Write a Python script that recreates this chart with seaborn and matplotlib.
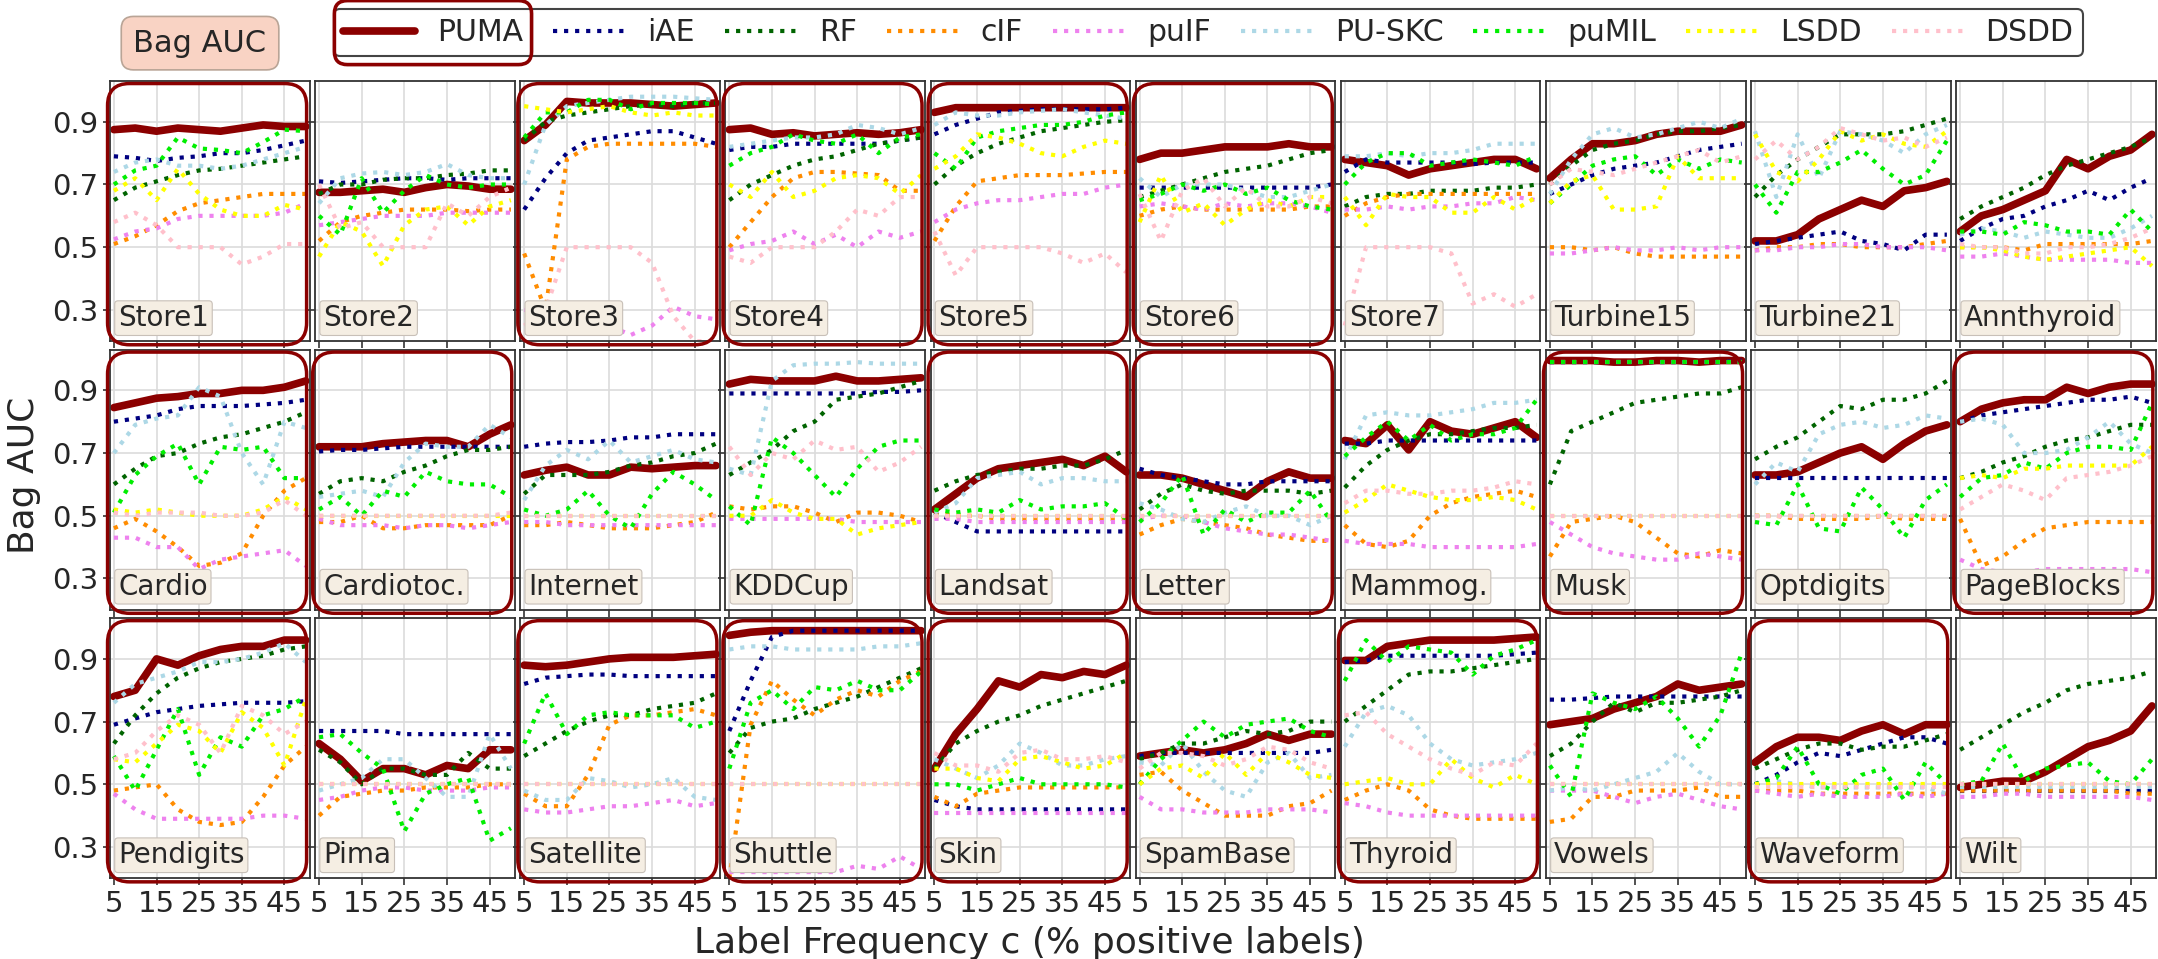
import matplotlib
matplotlib.use('Agg')
import matplotlib.pyplot as plt
from matplotlib.lines import Line2D
from matplotlib.patches import FancyBboxPatch
import pandas as pd
import seaborn as sns

label_freq = [5, 10, 15, 20, 25, 30, 35, 40, 45, 50]
methods = ['PUMA', 'iAE', 'RF', 'cIF', 'puIF', 'PU-SKC', 'puMIL', 'LSDD', 'DSDD']
datasets = ['Store1', 'Store2', 'Store3', 'Store4', 'Store5', 'Store6', 'Store7',
            'Turbine15', 'Turbine21', 'Annthyroid',
            'Cardio', 'Cardiotoc.', 'Internet', 'KDDCup', 'Landsat', 'Letter',
            'Mammog.', 'Musk', 'Optdigits', 'PageBlocks',
            'Pendigits', 'Pima', 'Satellite', 'Shuttle', 'Skin', 'SpamBase',
            'Thyroid', 'Vowels', 'Waveform', 'Wilt']
# datasets where PUMA is the best method (framed in dark red)
puma_best = ['Store1', 'Store3', 'Store4', 'Store5', 'Store6', 'Cardio', 'Cardiotoc.',
             'Landsat', 'Letter', 'Musk', 'PageBlocks', 'Pendigits', 'Satellite',
             'Shuttle', 'Skin', 'Thyroid', 'Waveform']

# Bag AUC per method, one dict per dataset (values read at c = 5..50)
store1 = {
    'PUMA': [0.875, 0.88, 0.87, 0.88, 0.875, 0.87, 0.88, 0.89, 0.885, 0.885],
    'iAE': [0.79, 0.785, 0.775, 0.785, 0.79, 0.80, 0.80, 0.81, 0.825, 0.84],
    'RF': [0.65, 0.69, 0.71, 0.73, 0.745, 0.75, 0.76, 0.77, 0.78, 0.79],
    'cIF': [0.51, 0.535, 0.57, 0.615, 0.64, 0.65, 0.66, 0.67, 0.67, 0.67],
    'puIF': [0.525, 0.55, 0.56, 0.59, 0.60, 0.60, 0.60, 0.60, 0.61, 0.64],
    'PU-SKC': [0.74, 0.77, 0.78, 0.76, 0.76, 0.75, 0.76, 0.78, 0.80, 0.82],
    'puMIL': [0.70, 0.745, 0.76, 0.85, 0.815, 0.81, 0.80, 0.835, 0.875, 0.87],
    'LSDD': [0.68, 0.72, 0.65, 0.75, 0.67, 0.62, 0.60, 0.60, 0.635, 0.62],
    'DSDD': [0.58, 0.61, 0.57, 0.50, 0.50, 0.50, 0.445, 0.47, 0.51, 0.51],
}
store2 = {
    'PUMA': [0.675, 0.675, 0.68, 0.685, 0.675, 0.69, 0.70, 0.695, 0.685, 0.685],
    'iAE': [0.71, 0.705, 0.71, 0.715, 0.72, 0.72, 0.715, 0.72, 0.72, 0.72],
    'RF': [0.67, 0.70, 0.70, 0.715, 0.72, 0.72, 0.73, 0.735, 0.745, 0.745],
    'cIF': [0.52, 0.58, 0.60, 0.61, 0.62, 0.62, 0.62, 0.615, 0.62, 0.62],
    'puIF': [0.57, 0.58, 0.59, 0.60, 0.60, 0.60, 0.61, 0.61, 0.61, 0.61],
    'PU-SKC': [0.64, 0.72, 0.735, 0.74, 0.73, 0.74, 0.765, 0.73, 0.72, 0.72],
    'puMIL': [0.60, 0.54, 0.72, 0.61, 0.68, 0.73, 0.70, 0.69, 0.70, 0.70],
    'LSDD': [0.47, 0.58, 0.55, 0.44, 0.57, 0.62, 0.63, 0.57, 0.63, 0.65],
    'DSDD': [0.70, 0.56, 0.58, 0.50, 0.50, 0.50, 0.64, 0.60, 0.66, 0.69],
}
store3 = {
    'PUMA': [0.84, 0.89, 0.965, 0.96, 0.96, 0.96, 0.955, 0.95, 0.955, 0.96],
    'iAE': [0.62, 0.72, 0.80, 0.84, 0.85, 0.86, 0.87, 0.87, 0.85, 0.83],
    'RF': [0.84, 0.90, 0.92, 0.93, 0.94, 0.95, 0.955, 0.95, 0.96, 0.96],
    'cIF': [0.48, 0.30, 0.78, 0.82, 0.83, 0.83, 0.83, 0.83, 0.83, 0.82],
    'puIF': [0.30, 0.29, 0.28, 0.27, 0.25, 0.22, 0.25, 0.31, 0.28, 0.27],
    'PU-SKC': [0.70, 0.89, 0.95, 0.96, 0.97, 0.98, 0.98, 0.98, 0.975, 0.97],
    'puMIL': [0.85, 0.93, 0.93, 0.97, 0.97, 0.94, 0.96, 0.96, 0.96, 0.955],
    'LSDD': [0.95, 0.94, 0.93, 0.94, 0.95, 0.93, 0.92, 0.93, 0.92, 0.92],
    'DSDD': [0.25, 0.30, 0.50, 0.50, 0.50, 0.50, 0.45, 0.28, 0.20, 0.20],
}
store4 = {
    'PUMA': [0.875, 0.88, 0.86, 0.865, 0.855, 0.86, 0.865, 0.86, 0.865, 0.875],
    'iAE': [0.81, 0.82, 0.82, 0.83, 0.83, 0.83, 0.83, 0.83, 0.84, 0.85],
    'RF': [0.65, 0.70, 0.73, 0.76, 0.78, 0.79, 0.81, 0.83, 0.84, 0.85],
    'cIF': [0.50, 0.58, 0.66, 0.72, 0.74, 0.74, 0.735, 0.73, 0.68, 0.68],
    'puIF': [0.49, 0.51, 0.52, 0.55, 0.51, 0.54, 0.50, 0.55, 0.53, 0.55],
    'PU-SKC': [0.82, 0.83, 0.84, 0.85, 0.85, 0.86, 0.89, 0.88, 0.86, 0.88],
    'puMIL': [0.76, 0.80, 0.82, 0.86, 0.84, 0.83, 0.86, 0.80, 0.85, 0.86],
    'LSDD': [0.70, 0.66, 0.74, 0.66, 0.68, 0.72, 0.73, 0.72, 0.67, 0.73],
    'DSDD': [0.47, 0.45, 0.50, 0.50, 0.50, 0.55, 0.62, 0.60, 0.66, 0.66],
}
store5 = {
    'PUMA': [0.93, 0.945, 0.945, 0.945, 0.945, 0.945, 0.945, 0.945, 0.945, 0.945],
    'iAE': [0.86, 0.89, 0.91, 0.93, 0.935, 0.94, 0.94, 0.94, 0.94, 0.945],
    'RF': [0.70, 0.76, 0.80, 0.83, 0.85, 0.87, 0.88, 0.89, 0.90, 0.905],
    'cIF': [0.52, 0.63, 0.71, 0.72, 0.73, 0.73, 0.73, 0.735, 0.74, 0.74],
    'puIF': [0.58, 0.62, 0.64, 0.65, 0.65, 0.66, 0.67, 0.67, 0.69, 0.70],
    'PU-SKC': [0.89, 0.93, 0.92, 0.92, 0.93, 0.935, 0.94, 0.93, 0.92, 0.91],
    'puMIL': [0.80, 0.75, 0.85, 0.87, 0.88, 0.89, 0.89, 0.90, 0.92, 0.93],
    'LSDD': [0.75, 0.79, 0.86, 0.85, 0.83, 0.80, 0.79, 0.82, 0.84, 0.83],
    'DSDD': [0.55, 0.41, 0.50, 0.50, 0.50, 0.50, 0.48, 0.45, 0.48, 0.42],
}
store6 = {
    'PUMA': [0.78, 0.80, 0.80, 0.81, 0.82, 0.82, 0.82, 0.83, 0.82, 0.82],
    'iAE': [0.69, 0.69, 0.69, 0.69, 0.69, 0.69, 0.69, 0.69, 0.69, 0.70],
    'RF': [0.66, 0.68, 0.70, 0.72, 0.74, 0.75, 0.76, 0.78, 0.80, 0.81],
    'cIF': [0.60, 0.62, 0.63, 0.62, 0.62, 0.62, 0.62, 0.62, 0.63, 0.63],
    'puIF': [0.63, 0.64, 0.63, 0.62, 0.64, 0.63, 0.64, 0.64, 0.63, 0.61],
    'PU-SKC': [0.72, 0.66, 0.70, 0.70, 0.70, 0.68, 0.66, 0.66, 0.68, 0.70],
    'puMIL': [0.65, 0.67, 0.70, 0.68, 0.70, 0.67, 0.69, 0.65, 0.63, 0.62],
    'LSDD': [0.58, 0.73, 0.61, 0.64, 0.57, 0.62, 0.65, 0.63, 0.66, 0.66],
    'DSDD': [0.67, 0.52, 0.68, 0.72, 0.63, 0.69, 0.63, 0.63, 0.66, 0.64],
}
store7 = {
    'PUMA': [0.78, 0.77, 0.76, 0.73, 0.75, 0.76, 0.77, 0.78, 0.78, 0.75],
    'iAE': [0.74, 0.78, 0.77, 0.77, 0.77, 0.77, 0.765, 0.77, 0.77, 0.77],
    'RF': [0.63, 0.66, 0.67, 0.67, 0.68, 0.68, 0.68, 0.69, 0.69, 0.70],
    'cIF': [0.60, 0.64, 0.66, 0.67, 0.67, 0.67, 0.67, 0.67, 0.67, 0.67],
    'puIF': [0.62, 0.62, 0.63, 0.62, 0.63, 0.63, 0.64, 0.64, 0.66, 0.65],
    'PU-SKC': [0.79, 0.79, 0.80, 0.79, 0.80, 0.80, 0.81, 0.83, 0.83, 0.83],
    'puMIL': [0.70, 0.77, 0.80, 0.80, 0.76, 0.77, 0.78, 0.77, 0.76, 0.79],
    'LSDD': [0.66, 0.57, 0.67, 0.66, 0.66, 0.61, 0.61, 0.66, 0.62, 0.66],
    'DSDD': [0.25, 0.50, 0.50, 0.50, 0.50, 0.48, 0.32, 0.35, 0.31, 0.35],
}
turbine15 = {
    'PUMA': [0.72, 0.78, 0.83, 0.83, 0.84, 0.86, 0.87, 0.87, 0.87, 0.89],
    'iAE': [0.67, 0.70, 0.73, 0.75, 0.76, 0.77, 0.79, 0.81, 0.82, 0.83],
    'RF': [0.70, 0.76, 0.81, 0.83, 0.84, 0.86, 0.87, 0.87, 0.88, 0.89],
    'cIF': [0.50, 0.50, 0.49, 0.50, 0.48, 0.47, 0.47, 0.47, 0.47, 0.47],
    'puIF': [0.48, 0.48, 0.49, 0.50, 0.49, 0.49, 0.50, 0.49, 0.50, 0.50],
    'PU-SKC': [0.67, 0.78, 0.86, 0.88, 0.85, 0.86, 0.88, 0.90, 0.88, 0.91],
    'puMIL': [0.64, 0.70, 0.76, 0.78, 0.79, 0.73, 0.78, 0.75, 0.78, 0.77],
    'LSDD': [0.64, 0.71, 0.73, 0.62, 0.62, 0.63, 0.79, 0.72, 0.72, 0.72],
    'DSDD': [0.70, 0.75, 0.74, 0.73, 0.75, 0.77, 0.79, 0.81, 0.77, 0.79],
}
turbine21 = {
    'PUMA': [0.52, 0.52, 0.54, 0.59, 0.62, 0.65, 0.63, 0.68, 0.69, 0.71],
    'iAE': [0.51, 0.52, 0.53, 0.54, 0.55, 0.52, 0.51, 0.49, 0.54, 0.54],
    'RF': [0.66, 0.73, 0.78, 0.82, 0.86, 0.86, 0.86, 0.87, 0.89, 0.91],
    'cIF': [0.49, 0.50, 0.50, 0.51, 0.51, 0.50, 0.50, 0.50, 0.51, 0.52],
    'puIF': [0.49, 0.49, 0.50, 0.50, 0.51, 0.51, 0.50, 0.50, 0.50, 0.49],
    'PU-SKC': [0.87, 0.66, 0.86, 0.72, 0.87, 0.86, 0.84, 0.80, 0.86, 0.89],
    'puMIL': [0.70, 0.61, 0.74, 0.74, 0.77, 0.81, 0.75, 0.70, 0.73, 0.84],
    'LSDD': [0.86, 0.74, 0.71, 0.78, 0.87, 0.84, 0.86, 0.83, 0.82, 0.87],
    'DSDD': [0.78, 0.84, 0.78, 0.82, 0.88, 0.86, 0.84, 0.85, 0.82, 0.85],
}
annthyroid = {
    'PUMA': [0.55, 0.60, 0.62, 0.65, 0.68, 0.78, 0.75, 0.79, 0.81, 0.86],
    'iAE': [0.52, 0.56, 0.59, 0.60, 0.63, 0.65, 0.68, 0.65, 0.69, 0.72],
    'RF': [0.59, 0.63, 0.66, 0.69, 0.73, 0.76, 0.78, 0.80, 0.82, 0.85],
    'cIF': [0.50, 0.50, 0.50, 0.49, 0.51, 0.51, 0.51, 0.51, 0.51, 0.52],
    'puIF': [0.47, 0.47, 0.48, 0.47, 0.46, 0.46, 0.46, 0.46, 0.45, 0.45],
    'PU-SKC': [0.54, 0.56, 0.55, 0.53, 0.55, 0.54, 0.53, 0.53, 0.56, 0.60],
    'puMIL': [0.55, 0.55, 0.54, 0.58, 0.57, 0.55, 0.55, 0.54, 0.62, 0.55],
    'LSDD': [0.50, 0.50, 0.49, 0.47, 0.46, 0.47, 0.48, 0.49, 0.50, 0.44],
    'DSDD': [0.51, 0.50, 0.50, 0.48, 0.48, 0.50, 0.50, 0.51, 0.53, 0.56],
}
cardio = {
    'PUMA': [0.845, 0.86, 0.875, 0.88, 0.89, 0.89, 0.90, 0.90, 0.91, 0.93],
    'iAE': [0.80, 0.81, 0.82, 0.84, 0.85, 0.85, 0.85, 0.855, 0.86, 0.87],
    'RF': [0.60, 0.65, 0.69, 0.70, 0.73, 0.75, 0.76, 0.78, 0.80, 0.83],
    'cIF': [0.46, 0.49, 0.45, 0.40, 0.34, 0.35, 0.38, 0.50, 0.58, 0.62],
    'puIF': [0.43, 0.43, 0.40, 0.40, 0.33, 0.36, 0.37, 0.38, 0.39, 0.34],
    'PU-SKC': [0.70, 0.79, 0.81, 0.82, 0.91, 0.88, 0.70, 0.60, 0.80, 0.78],
    'puMIL': [0.51, 0.63, 0.69, 0.73, 0.60, 0.72, 0.71, 0.72, 0.62, 0.62],
    'LSDD': [0.52, 0.51, 0.52, 0.51, 0.50, 0.50, 0.50, 0.52, 0.56, 0.52],
    'DSDD': [0.51, 0.50, 0.51, 0.51, 0.51, 0.50, 0.50, 0.51, 0.55, 0.50],
}
cardiotoc = {
    'PUMA': [0.72, 0.72, 0.72, 0.73, 0.735, 0.74, 0.74, 0.72, 0.76, 0.79],
    'iAE': [0.705, 0.71, 0.71, 0.715, 0.72, 0.72, 0.72, 0.72, 0.72, 0.72],
    'RF': [0.57, 0.61, 0.62, 0.61, 0.64, 0.66, 0.69, 0.71, 0.71, 0.72],
    'cIF': [0.48, 0.48, 0.50, 0.46, 0.46, 0.47, 0.47, 0.47, 0.47, 0.50],
    'puIF': [0.49, 0.47, 0.47, 0.47, 0.46, 0.47, 0.47, 0.46, 0.47, 0.48],
    'PU-SKC': [0.56, 0.57, 0.58, 0.56, 0.67, 0.73, 0.72, 0.72, 0.79, 0.75],
    'puMIL': [0.52, 0.56, 0.50, 0.58, 0.56, 0.64, 0.61, 0.60, 0.60, 0.56],
    'LSDD': [0.50, 0.50, 0.50, 0.50, 0.50, 0.50, 0.50, 0.50, 0.50, 0.50],
    'DSDD': [0.50, 0.50, 0.50, 0.50, 0.50, 0.50, 0.50, 0.50, 0.50, 0.51],
}
internet = {
    'PUMA': [0.63, 0.645, 0.655, 0.63, 0.63, 0.655, 0.65, 0.655, 0.66, 0.66],
    'iAE': [0.72, 0.73, 0.735, 0.735, 0.74, 0.75, 0.75, 0.76, 0.76, 0.76],
    'RF': [0.57, 0.63, 0.63, 0.63, 0.64, 0.66, 0.67, 0.69, 0.70, 0.73],
    'cIF': [0.47, 0.47, 0.48, 0.47, 0.46, 0.46, 0.46, 0.47, 0.48, 0.51],
    'puIF': [0.48, 0.48, 0.47, 0.47, 0.47, 0.47, 0.47, 0.47, 0.47, 0.47],
    'PU-SKC': [0.55, 0.66, 0.71, 0.68, 0.74, 0.67, 0.69, 0.71, 0.68, 0.67],
    'puMIL': [0.52, 0.50, 0.52, 0.58, 0.50, 0.46, 0.57, 0.64, 0.60, 0.55],
    'LSDD': [0.50, 0.50, 0.50, 0.50, 0.50, 0.50, 0.50, 0.50, 0.50, 0.50],
    'DSDD': [0.50, 0.50, 0.50, 0.50, 0.50, 0.50, 0.50, 0.50, 0.50, 0.50],
}
kddcup = {
    'PUMA': [0.92, 0.935, 0.93, 0.93, 0.93, 0.945, 0.93, 0.93, 0.935, 0.94],
    'iAE': [0.89, 0.89, 0.89, 0.89, 0.89, 0.89, 0.89, 0.895, 0.895, 0.90],
    'RF': [0.63, 0.67, 0.71, 0.77, 0.80, 0.87, 0.88, 0.89, 0.91, 0.93],
    'cIF': [0.53, 0.52, 0.53, 0.53, 0.51, 0.48, 0.51, 0.51, 0.50, 0.48],
    'puIF': [0.49, 0.49, 0.49, 0.49, 0.49, 0.49, 0.48, 0.48, 0.48, 0.48],
    'PU-SKC': [0.65, 0.63, 0.93, 0.98, 0.985, 0.985, 0.99, 0.985, 0.985, 0.985],
    'puMIL': [0.53, 0.47, 0.75, 0.70, 0.63, 0.56, 0.65, 0.72, 0.74, 0.74],
    'LSDD': [0.50, 0.50, 0.55, 0.51, 0.49, 0.49, 0.44, 0.46, 0.47, 0.48],
    'DSDD': [0.72, 0.63, 0.70, 0.68, 0.74, 0.71, 0.72, 0.64, 0.67, 0.72],
}
landsat = {
    'PUMA': [0.52, 0.57, 0.62, 0.65, 0.66, 0.67, 0.68, 0.66, 0.69, 0.64],
    'iAE': [0.51, 0.48, 0.45, 0.45, 0.45, 0.45, 0.45, 0.45, 0.45, 0.45],
    'RF': [0.58, 0.61, 0.63, 0.64, 0.65, 0.65, 0.66, 0.66, 0.68, 0.71],
    'cIF': [0.51, 0.50, 0.50, 0.49, 0.49, 0.49, 0.49, 0.49, 0.49, 0.49],
    'puIF': [0.49, 0.49, 0.48, 0.48, 0.48, 0.48, 0.48, 0.48, 0.48, 0.48],
    'PU-SKC': [0.51, 0.54, 0.62, 0.63, 0.64, 0.60, 0.62, 0.62, 0.61, 0.61],
    'puMIL': [0.52, 0.51, 0.52, 0.51, 0.55, 0.52, 0.53, 0.53, 0.54, 0.49],
    'LSDD': [0.50, 0.50, 0.50, 0.50, 0.50, 0.50, 0.50, 0.50, 0.50, 0.50],
    'DSDD': [0.50, 0.50, 0.50, 0.50, 0.50, 0.50, 0.50, 0.50, 0.50, 0.50],
}
letter = {
    'PUMA': [0.63, 0.63, 0.62, 0.60, 0.58, 0.56, 0.61, 0.64, 0.62, 0.62],
    'iAE': [0.65, 0.63, 0.62, 0.61, 0.60, 0.60, 0.61, 0.61, 0.61, 0.61],
    'RF': [0.52, 0.57, 0.60, 0.58, 0.57, 0.58, 0.58, 0.58, 0.57, 0.58],
    'cIF': [0.44, 0.47, 0.49, 0.48, 0.47, 0.46, 0.44, 0.43, 0.42, 0.42],
    'puIF': [0.49, 0.50, 0.50, 0.48, 0.46, 0.45, 0.44, 0.44, 0.43, 0.42],
    'PU-SKC': [0.54, 0.52, 0.49, 0.48, 0.51, 0.53, 0.50, 0.50, 0.47, 0.50],
    'puMIL': [0.48, 0.54, 0.63, 0.44, 0.52, 0.48, 0.51, 0.51, 0.58, 0.48],
    'LSDD': [0.50, 0.50, 0.50, 0.50, 0.50, 0.50, 0.50, 0.50, 0.50, 0.50],
    'DSDD': [0.50, 0.50, 0.50, 0.50, 0.50, 0.50, 0.50, 0.50, 0.50, 0.50],
}
mammog = {
    'PUMA': [0.74, 0.73, 0.79, 0.71, 0.80, 0.77, 0.76, 0.78, 0.80, 0.75],
    'iAE': [0.73, 0.73, 0.74, 0.74, 0.74, 0.74, 0.74, 0.74, 0.74, 0.74],
    'RF': [0.59, 0.66, 0.71, 0.74, 0.76, 0.76, 0.77, 0.78, 0.78, 0.79],
    'cIF': [0.47, 0.41, 0.40, 0.42, 0.50, 0.54, 0.56, 0.57, 0.58, 0.56],
    'puIF': [0.42, 0.41, 0.41, 0.41, 0.40, 0.40, 0.40, 0.40, 0.40, 0.41],
    'PU-SKC': [0.68, 0.82, 0.83, 0.82, 0.82, 0.83, 0.84, 0.86, 0.86, 0.87],
    'puMIL': [0.69, 0.75, 0.80, 0.74, 0.79, 0.74, 0.76, 0.76, 0.78, 0.87],
    'LSDD': [0.51, 0.55, 0.60, 0.58, 0.56, 0.55, 0.55, 0.56, 0.55, 0.52],
    'DSDD': [0.54, 0.58, 0.58, 0.57, 0.57, 0.58, 0.58, 0.59, 0.61, 0.60],
}
musk = {
    'PUMA': [0.995, 0.995, 0.995, 0.99, 0.99, 0.995, 0.995, 0.99, 0.995, 0.995],
    'iAE': [0.99, 0.99, 0.99, 0.99, 0.99, 0.99, 0.99, 0.99, 0.99, 0.995],
    'RF': [0.60, 0.77, 0.80, 0.83, 0.86, 0.87, 0.88, 0.89, 0.89, 0.91],
    'cIF': [0.37, 0.48, 0.49, 0.50, 0.48, 0.43, 0.38, 0.37, 0.39, 0.38],
    'puIF': [0.48, 0.44, 0.40, 0.38, 0.37, 0.36, 0.36, 0.38, 0.37, 0.36],
    'PU-SKC': [0.99, 0.99, 0.99, 0.99, 0.99, 0.99, 0.99, 0.99, 0.99, 0.99],
    'puMIL': [0.99, 0.99, 0.99, 0.99, 0.99, 0.99, 0.99, 0.99, 0.99, 0.99],
    'LSDD': [0.50, 0.50, 0.50, 0.50, 0.50, 0.50, 0.50, 0.50, 0.50, 0.50],
    'DSDD': [0.50, 0.50, 0.50, 0.50, 0.50, 0.50, 0.50, 0.50, 0.50, 0.50],
}
optdigits = {
    'PUMA': [0.63, 0.63, 0.64, 0.67, 0.70, 0.72, 0.68, 0.73, 0.77, 0.79],
    'iAE': [0.62, 0.62, 0.62, 0.62, 0.62, 0.62, 0.62, 0.62, 0.62, 0.62],
    'RF': [0.68, 0.72, 0.75, 0.80, 0.85, 0.84, 0.87, 0.87, 0.89, 0.93],
    'cIF': [0.50, 0.50, 0.49, 0.49, 0.49, 0.49, 0.50, 0.49, 0.49, 0.49],
    'puIF': [0.50, 0.50, 0.50, 0.50, 0.50, 0.50, 0.50, 0.50, 0.50, 0.50],
    'PU-SKC': [0.60, 0.67, 0.64, 0.76, 0.79, 0.80, 0.78, 0.79, 0.82, 0.81],
    'puMIL': [0.48, 0.47, 0.60, 0.46, 0.45, 0.59, 0.52, 0.43, 0.55, 0.60],
    'LSDD': [0.50, 0.50, 0.50, 0.50, 0.50, 0.50, 0.50, 0.50, 0.50, 0.50],
    'DSDD': [0.50, 0.50, 0.50, 0.50, 0.50, 0.50, 0.50, 0.50, 0.50, 0.50],
}
pageblocks = {
    'PUMA': [0.80, 0.84, 0.86, 0.87, 0.87, 0.91, 0.89, 0.91, 0.92, 0.92],
    'iAE': [0.80, 0.82, 0.83, 0.84, 0.85, 0.86, 0.87, 0.87, 0.88, 0.86],
    'RF': [0.62, 0.64, 0.67, 0.69, 0.72, 0.74, 0.75, 0.77, 0.79, 0.79],
    'cIF': [0.49, 0.34, 0.37, 0.42, 0.46, 0.47, 0.48, 0.48, 0.48, 0.48],
    'puIF': [0.36, 0.33, 0.32, 0.32, 0.33, 0.33, 0.33, 0.33, 0.33, 0.32],
    'PU-SKC': [0.80, 0.81, 0.79, 0.70, 0.70, 0.71, 0.75, 0.80, 0.73, 0.70],
    'puMIL': [0.56, 0.62, 0.63, 0.67, 0.65, 0.70, 0.72, 0.72, 0.71, 0.86],
    'LSDD': [0.62, 0.63, 0.62, 0.65, 0.65, 0.66, 0.66, 0.66, 0.66, 0.72],
    'DSDD': [0.52, 0.56, 0.60, 0.58, 0.55, 0.62, 0.63, 0.64, 0.66, 0.69],
}
pendigits = {
    'PUMA': [0.78, 0.80, 0.90, 0.88, 0.91, 0.93, 0.94, 0.94, 0.96, 0.96],
    'iAE': [0.69, 0.71, 0.73, 0.74, 0.75, 0.755, 0.76, 0.76, 0.76, 0.765],
    'RF': [0.63, 0.72, 0.79, 0.84, 0.87, 0.89, 0.90, 0.91, 0.93, 0.94],
    'cIF': [0.48, 0.49, 0.50, 0.42, 0.38, 0.37, 0.38, 0.46, 0.56, 0.62],
    'puIF': [0.47, 0.42, 0.39, 0.39, 0.39, 0.39, 0.39, 0.40, 0.40, 0.39],
    'PU-SKC': [0.76, 0.82, 0.84, 0.86, 0.89, 0.89, 0.90, 0.92, 0.95, 0.89],
    'puMIL': [0.59, 0.48, 0.61, 0.74, 0.53, 0.65, 0.62, 0.72, 0.74, 0.78],
    'LSDD': [0.58, 0.57, 0.63, 0.69, 0.67, 0.60, 0.73, 0.68, 0.56, 0.77],
    'DSDD': [0.58, 0.60, 0.67, 0.72, 0.69, 0.60, 0.75, 0.72, 0.66, 0.70],
}
pima = {
    'PUMA': [0.63, 0.58, 0.51, 0.55, 0.55, 0.53, 0.56, 0.55, 0.61, 0.61],
    'iAE': [0.67, 0.67, 0.67, 0.67, 0.66, 0.66, 0.66, 0.66, 0.66, 0.66],
    'RF': [0.61, 0.57, 0.50, 0.55, 0.55, 0.53, 0.53, 0.60, 0.55, 0.55],
    'cIF': [0.40, 0.46, 0.47, 0.48, 0.48, 0.49, 0.49, 0.49, 0.50, 0.50],
    'puIF': [0.45, 0.46, 0.48, 0.49, 0.49, 0.48, 0.48, 0.48, 0.49, 0.49],
    'PU-SKC': [0.48, 0.50, 0.52, 0.58, 0.58, 0.52, 0.46, 0.46, 0.66, 0.55],
    'puMIL': [0.65, 0.66, 0.60, 0.55, 0.35, 0.47, 0.50, 0.52, 0.32, 0.36],
    'LSDD': [0.50, 0.50, 0.50, 0.50, 0.50, 0.50, 0.50, 0.50, 0.50, 0.50],
    'DSDD': [0.50, 0.50, 0.50, 0.50, 0.50, 0.50, 0.50, 0.50, 0.50, 0.50],
}
satellite = {
    'PUMA': [0.88, 0.875, 0.88, 0.89, 0.90, 0.905, 0.905, 0.905, 0.91, 0.915],
    'iAE': [0.82, 0.84, 0.845, 0.85, 0.85, 0.845, 0.845, 0.845, 0.845, 0.845],
    'RF': [0.59, 0.63, 0.67, 0.70, 0.72, 0.72, 0.74, 0.75, 0.76, 0.79],
    'cIF': [0.47, 0.43, 0.43, 0.53, 0.69, 0.72, 0.72, 0.73, 0.74, 0.72],
    'puIF': [0.42, 0.41, 0.41, 0.42, 0.43, 0.43, 0.44, 0.45, 0.43, 0.44],
    'PU-SKC': [0.48, 0.45, 0.45, 0.52, 0.51, 0.49, 0.50, 0.52, 0.46, 0.45],
    'puMIL': [0.63, 0.79, 0.66, 0.72, 0.73, 0.72, 0.72, 0.72, 0.68, 0.70],
    'LSDD': [0.50, 0.50, 0.50, 0.50, 0.50, 0.50, 0.50, 0.50, 0.50, 0.50],
    'DSDD': [0.50, 0.50, 0.50, 0.50, 0.50, 0.50, 0.50, 0.50, 0.50, 0.50],
}
shuttle = {
    'PUMA': [0.975, 0.985, 0.99, 0.99, 0.99, 0.99, 0.99, 0.99, 0.99, 0.99],
    'iAE': [0.67, 0.83, 0.97, 0.99, 0.99, 0.99, 0.99, 0.99, 0.99, 0.99],
    'RF': [0.60, 0.68, 0.70, 0.71, 0.74, 0.76, 0.78, 0.81, 0.84, 0.87],
    'cIF': [0.20, 0.69, 0.83, 0.77, 0.72, 0.77, 0.80, 0.78, 0.83, 0.86],
    'puIF': [0.22, 0.22, 0.22, 0.22, 0.22, 0.22, 0.24, 0.23, 0.27, 0.23],
    'PU-SKC': [0.93, 0.94, 0.94, 0.93, 0.93, 0.93, 0.93, 0.94, 0.94, 0.95],
    'puMIL': [0.55, 0.76, 0.80, 0.74, 0.81, 0.80, 0.83, 0.80, 0.80, 0.86],
    'LSDD': [0.50, 0.50, 0.50, 0.50, 0.50, 0.50, 0.50, 0.50, 0.50, 0.50],
    'DSDD': [0.50, 0.50, 0.50, 0.50, 0.50, 0.50, 0.50, 0.50, 0.50, 0.50],
}
skin = {
    'PUMA': [0.55, 0.66, 0.74, 0.83, 0.81, 0.85, 0.84, 0.86, 0.85, 0.88],
    'iAE': [0.45, 0.43, 0.42, 0.42, 0.42, 0.42, 0.42, 0.42, 0.42, 0.42],
    'RF': [0.55, 0.63, 0.67, 0.70, 0.72, 0.75, 0.77, 0.79, 0.81, 0.83],
    'cIF': [0.46, 0.43, 0.47, 0.48, 0.49, 0.49, 0.49, 0.49, 0.49, 0.49],
    'puIF': [0.41, 0.41, 0.41, 0.41, 0.41, 0.41, 0.41, 0.41, 0.41, 0.41],
    'PU-SKC': [0.58, 0.55, 0.52, 0.56, 0.63, 0.60, 0.56, 0.56, 0.58, 0.59],
    'puMIL': [0.50, 0.50, 0.48, 0.50, 0.52, 0.50, 0.50, 0.50, 0.50, 0.49],
    'LSDD': [0.55, 0.55, 0.52, 0.51, 0.58, 0.59, 0.57, 0.55, 0.56, 0.60],
    'DSDD': [0.60, 0.56, 0.56, 0.54, 0.60, 0.61, 0.58, 0.58, 0.59, 0.57],
}
spambase = {
    'PUMA': [0.59, 0.60, 0.61, 0.60, 0.61, 0.63, 0.66, 0.64, 0.66, 0.66],
    'iAE': [0.59, 0.60, 0.60, 0.60, 0.60, 0.60, 0.60, 0.60, 0.60, 0.61],
    'RF': [0.58, 0.60, 0.63, 0.63, 0.65, 0.67, 0.66, 0.67, 0.70, 0.70],
    'cIF': [0.53, 0.54, 0.48, 0.44, 0.40, 0.40, 0.40, 0.43, 0.44, 0.48],
    'puIF': [0.46, 0.42, 0.42, 0.41, 0.41, 0.41, 0.42, 0.42, 0.42, 0.41],
    'PU-SKC': [0.57, 0.56, 0.63, 0.54, 0.48, 0.46, 0.57, 0.60, 0.52, 0.53],
    'puMIL': [0.50, 0.58, 0.64, 0.70, 0.65, 0.69, 0.70, 0.71, 0.67, 0.65],
    'LSDD': [0.50, 0.55, 0.56, 0.52, 0.60, 0.53, 0.60, 0.57, 0.53, 0.52],
    'DSDD': [0.55, 0.60, 0.60, 0.59, 0.56, 0.58, 0.62, 0.61, 0.57, 0.55],
}
thyroid = {
    'PUMA': [0.895, 0.895, 0.94, 0.95, 0.96, 0.96, 0.96, 0.96, 0.965, 0.97],
    'iAE': [0.89, 0.895, 0.91, 0.91, 0.91, 0.91, 0.91, 0.91, 0.915, 0.92],
    'RF': [0.70, 0.75, 0.80, 0.85, 0.86, 0.86, 0.87, 0.88, 0.89, 0.90],
    'cIF': [0.45, 0.48, 0.50, 0.48, 0.42, 0.40, 0.39, 0.39, 0.39, 0.39],
    'puIF': [0.44, 0.43, 0.41, 0.40, 0.40, 0.40, 0.40, 0.40, 0.40, 0.40],
    'PU-SKC': [0.62, 0.73, 0.75, 0.72, 0.63, 0.58, 0.56, 0.57, 0.58, 0.60],
    'puMIL': [0.83, 0.96, 0.89, 0.94, 0.93, 0.92, 0.85, 0.91, 0.93, 0.96],
    'LSDD': [0.50, 0.51, 0.52, 0.50, 0.50, 0.58, 0.52, 0.49, 0.53, 0.50],
    'DSDD': [0.72, 0.73, 0.66, 0.62, 0.58, 0.55, 0.53, 0.57, 0.56, 0.63],
}
vowels = {
    'PUMA': [0.69, 0.70, 0.71, 0.74, 0.76, 0.78, 0.82, 0.80, 0.81, 0.82],
    'iAE': [0.77, 0.77, 0.775, 0.78, 0.78, 0.78, 0.78, 0.78, 0.78, 0.78],
    'RF': [0.59, 0.63, 0.70, 0.76, 0.73, 0.76, 0.76, 0.77, 0.78, 0.80],
    'cIF': [0.38, 0.39, 0.46, 0.46, 0.48, 0.48, 0.48, 0.49, 0.46, 0.46],
    'puIF': [0.48, 0.48, 0.48, 0.46, 0.44, 0.46, 0.47, 0.45, 0.43, 0.42],
    'PU-SKC': [0.48, 0.49, 0.48, 0.50, 0.52, 0.54, 0.60, 0.54, 0.50, 0.50],
    'puMIL': [0.56, 0.46, 0.79, 0.76, 0.74, 0.78, 0.71, 0.62, 0.72, 0.92],
    'LSDD': [0.50, 0.50, 0.50, 0.50, 0.50, 0.50, 0.50, 0.50, 0.50, 0.50],
    'DSDD': [0.50, 0.50, 0.50, 0.50, 0.50, 0.50, 0.50, 0.50, 0.50, 0.50],
}
waveform = {
    'PUMA': [0.57, 0.62, 0.65, 0.65, 0.64, 0.67, 0.69, 0.66, 0.69, 0.69],
    'iAE': [0.50, 0.53, 0.57, 0.60, 0.59, 0.61, 0.63, 0.65, 0.65, 0.63],
    'RF': [0.55, 0.58, 0.61, 0.63, 0.63, 0.61, 0.62, 0.62, 0.64, 0.66],
    'cIF': [0.48, 0.48, 0.48, 0.47, 0.47, 0.47, 0.47, 0.47, 0.47, 0.47],
    'puIF': [0.48, 0.47, 0.46, 0.47, 0.46, 0.46, 0.46, 0.47, 0.46, 0.47],
    'PU-SKC': [0.50, 0.51, 0.50, 0.49, 0.49, 0.49, 0.49, 0.49, 0.49, 0.47],
    'puMIL': [0.50, 0.52, 0.62, 0.50, 0.47, 0.53, 0.55, 0.45, 0.57, 0.50],
    'LSDD': [0.50, 0.50, 0.50, 0.50, 0.50, 0.50, 0.50, 0.50, 0.50, 0.50],
    'DSDD': [0.49, 0.49, 0.49, 0.49, 0.49, 0.49, 0.49, 0.49, 0.49, 0.49],
}
wilt = {
    'PUMA': [0.49, 0.50, 0.51, 0.51, 0.54, 0.58, 0.62, 0.64, 0.67, 0.75],
    'iAE': [0.48, 0.48, 0.48, 0.48, 0.48, 0.48, 0.48, 0.48, 0.48, 0.48],
    'RF': [0.61, 0.65, 0.69, 0.73, 0.76, 0.80, 0.82, 0.83, 0.84, 0.86],
    'cIF': [0.48, 0.48, 0.48, 0.48, 0.48, 0.48, 0.48, 0.48, 0.47, 0.47],
    'puIF': [0.46, 0.46, 0.47, 0.47, 0.46, 0.46, 0.46, 0.46, 0.46, 0.45],
    'PU-SKC': [0.49, 0.49, 0.49, 0.49, 0.49, 0.49, 0.49, 0.49, 0.49, 0.49],
    'puMIL': [0.50, 0.51, 0.63, 0.51, 0.55, 0.56, 0.57, 0.51, 0.50, 0.58],
    'LSDD': [0.50, 0.50, 0.50, 0.50, 0.50, 0.50, 0.50, 0.50, 0.50, 0.50],
    'DSDD': [0.50, 0.50, 0.50, 0.50, 0.50, 0.50, 0.50, 0.50, 0.50, 0.50],
}

results = [store1, store2, store3, store4, store5, store6, store7, turbine15, turbine21,
           annthyroid, cardio, cardiotoc, internet, kddcup, landsat, letter, mammog, musk,
           optdigits, pageblocks, pendigits, pima, satellite, shuttle, skin, spambase,
           thyroid, vowels, waveform, wilt]

palette = {'PUMA': '#8b0000', 'iAE': '#000080', 'RF': '#006400', 'cIF': '#ff8c00',
           'puIF': '#ee82ee', 'PU-SKC': '#add8e6', 'puMIL': '#00ee00',
           'LSDD': '#ffff00', 'DSDD': '#ffc0cb'}
sizes = {m: 3.0 for m in methods}
sizes['PUMA'] = 5.5
dashes = {m: (1, 1.65) for m in methods}
dashes['PUMA'] = ''

# long-form table built from the per-dataset dicts
rows = []
for name, res in zip(datasets, results):
    for m in methods:
        for c, v in zip(label_freq, res[m]):
            rows.append({'dataset': name, 'method': m, 'c': c, 'auc': v})
df = pd.DataFrame(rows)

sns.set_style('ticks', {'axes.grid': True, 'grid.color': '#dcdcdc',
                        'axes.edgecolor': '#333333'})

fig, axes = plt.subplots(3, 10, figsize=(21.58, 9.59), dpi=100, sharex=True, sharey=True)
plt.subplots_adjust(left=0.051, right=0.999, top=0.9155, bottom=0.0841,
                    wspace=0.028, hspace=0.032)

for ax, name in zip(axes.flat, datasets):
    sns.lineplot(data=df[df['dataset'] == name], x='c', y='auc', hue='method',
                 style='method', size='method', hue_order=methods, style_order=methods,
                 size_order=methods, palette=palette, dashes=dashes, sizes=sizes,
                 legend=False, ax=ax)
    ax.set_xlim(4.1, 50.9)
    ax.set_ylim(0.2, 1.03)
    ax.set_xticks([5, 15, 25, 35, 45])
    ax.set_yticks([0.3, 0.5, 0.7, 0.9])
    ax.set_xlabel('')
    ax.set_ylabel('')
    ax.grid(True, color='#dcdcdc', lw=1.2)
    ax.tick_params(labelsize=21, length=5, width=1.2, color='#333333')
    for sp in ax.spines.values():
        sp.set_linewidth(1.3)
    ax.text(0.04, 0.035, name, transform=ax.transAxes, ha='left', va='bottom',
            fontsize=20, zorder=5,
            bbox=dict(boxstyle='round,pad=0.12', fc='#f5eee3', ec='#c8c0b8', lw=0.8))

fig.text(0.011, 0.504, 'Bag AUC', rotation=90, ha='center', va='center', fontsize=26)
fig.text(0.477, 0.0063, 'Label Frequency c (% positive labels)', ha='center',
         va='baseline', fontsize=26)
fig.text(0.0927, 0.955, 'Bag AUC', ha='center', va='center', fontsize=22,
         bbox=dict(boxstyle='round,pad=0.4', fc='#f9d3c4', ec='#b9a496', lw=1.2))

handles = [Line2D([], [], color=palette[m], lw=sizes[m],
                  ls='-' if m == 'PUMA' else ':') for m in methods]
leg = fig.legend(handles, methods, loc='center', bbox_to_anchor=(0.56, 0.966), ncol=9,
                 fontsize=21.5, handlelength=2.4, handletextpad=0.75, columnspacing=1.0,
                 frameon=True, fancybox=True, edgecolor='#444444', framealpha=1,
                 borderpad=0.3)
leg.get_frame().set_linewidth(1.5)

# rounded dark-red frames: around PUMA in the legend and around panels PUMA wins
fig.canvas.draw()
renderer = fig.canvas.get_renderer()
W, H = fig.get_size_inches()
dpi = fig.dpi
hb = leg.legend_handles[0].get_window_extent(renderer)
tb = leg.get_texts()[0].get_window_extent(renderer)
x0, x1 = hb.x0 - 9, tb.x1 + 8
yc = (tb.y0 + tb.y1) / 2
fig.add_artist(FancyBboxPatch((x0 / dpi, (yc - 32) / dpi), (x1 - x0) / dpi, 64 / dpi,
                              boxstyle='round,pad=0,rounding_size=0.13',
                              transform=fig.dpi_scale_trans, fill=False,
                              ec='#8b0000', lw=2.6, zorder=10))

for ax, name in zip(axes.flat, datasets):
    if name not in puma_best:
        continue
    pos = ax.get_position()
    bx0 = pos.x0 * W - 0.025
    by0 = pos.y0 * H - 0.035
    bw = pos.width * W - 0.005
    bh = pos.height * H + 0.01
    fig.add_artist(FancyBboxPatch((bx0, by0), bw, bh,
                                  boxstyle='round,pad=0,rounding_size=0.22',
                                  transform=fig.dpi_scale_trans, fill=False,
                                  ec='#8b0000', lw=2.5, zorder=10))

fig.savefig('out.png', dpi=100)
